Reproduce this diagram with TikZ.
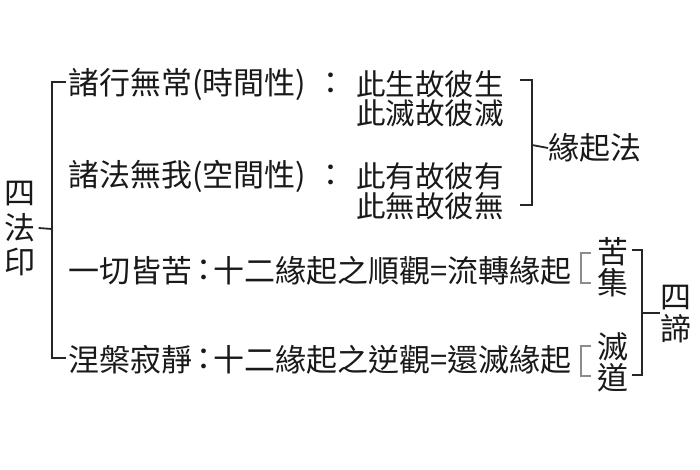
\documentclass[tikz,border=0pt]{standalone}
\usepackage{fontspec}
\setmainfont{Noto Sans CJK TC}
\begin{document}
\begin{tikzpicture}[x=1pt,y=-1pt,
  txt/.style={inner sep=0pt,font=\fontsize{31}{31}\selectfont,text=black!90},
  lft/.style={txt,anchor=west},
  sml/.style={lft,font=\fontsize{29.5}{29.5}\selectfont},
  brk/.style={line width=1.8pt,black!85},
  gbrk/.style={line width=1.5pt,black!45}]
\useasboundingbox[fill=white] (0,0) rectangle (700,470);
% left label
\node[txt] (si) at (20,194) {四};
\node[txt] (fa) at (20,228) {法};
\node[txt] (yin) at (20,262) {印};
% rows
\node[lft] (r1) at (68,84) {諸行無常(時間性)};
\node[txt] (c1) at (331,84) {：};
\node[sml] (r1a) at (356,84) {此生故彼生};
\node[sml] (r1b) at (356,113) {此滅故彼滅};
\node[lft] (r2) at (68,176) {諸法無我(空間性)};
\node[txt] (c2) at (331,176) {：};
\node[sml] (r2a) at (356,176) {此有故彼有};
\node[sml] (r2b) at (356,206) {此無故彼無};
\node[lft] (r3) at (68,271) {一切皆苦};
\node[txt] (c3) at (204,271) {：};
\node[lft] (r3a) at (213,271) {十二緣起之順觀=流轉緣起};
\node[lft] (r4) at (68,360) {涅槃寂靜};
\node[txt] (c4) at (204,360) {：};
\node[lft] (r4a) at (213,360) {十二緣起之逆觀=還滅緣起};
% 緣起法
\node[lft] (yq) at (548,148) {緣起法};
% 苦集 滅道
\node[txt] (ku) at (613,252) {苦};
\node[txt] (ji) at (613,283) {集};
\node[txt] (mie) at (613,347) {滅};
\node[txt] (dao) at (613,378) {道};
% 四諦
\node[txt] (si2) at (676,298) {四};
\node[txt] (di) at (676,329) {諦};
% coordinates for brackets
\coordinate (L) at (52,229);
\coordinate (Lt) at (52,82);
\coordinate (Lb) at (52,358);
\draw[brk] (fa.east) ++(3,0) -- (L);
\draw[brk] (r1.west) ++(-2,-2) -| (Lt) -- (Lb) -- ++(14,0);
\coordinate (Rt) at (532,80);
\coordinate (Rb) at (532,205);
\coordinate (Rm) at (532,145);
\draw[brk] (520,80) -- (Rt) -- (Rb) -- (520,205);
\draw[brk] (Rm) -- (yq.west);
\coordinate (St) at (642,250);
\coordinate (Sb) at (642,375);
\coordinate (Sm) at (642,313);
\draw[brk] (632,250) -- (St) -- (Sb) -- (632,375);
\draw[brk] (Sm) -- (si2.west |- Sm);
\draw[gbrk] (591,253) -- (581,253) -- (581,283) -- (591,283);
\draw[gbrk] (591,346) -- (581,346) -- (581,376) -- (591,376);
\end{tikzpicture}
\end{document}
